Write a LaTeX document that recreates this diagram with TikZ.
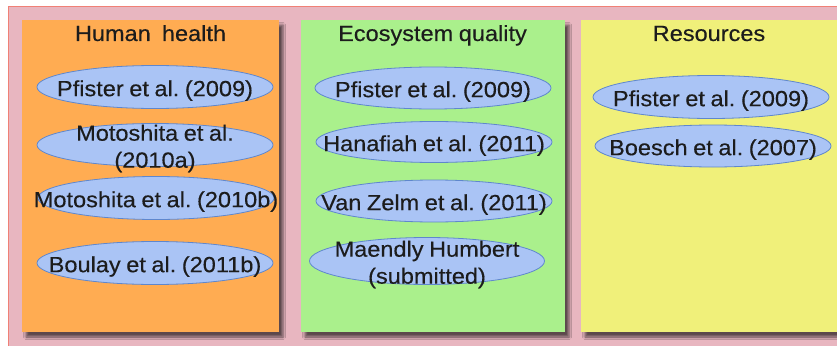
\documentclass[tikz,border=0pt]{standalone}
\usepackage{fontspec}
\setmainfont{Liberation Sans}[FakeStretch=1.07, WordSpace=0.85, FakeBold=0.3]
\usetikzlibrary{shapes.geometric,shadows.blur}
\frenchspacing

\definecolor{panelpink}{RGB}{232,182,192}
\definecolor{panelrim}{RGB}{240,128,118}
\definecolor{healthfill}{RGB}{255,172,82}
\definecolor{ecofill}{RGB}{170,240,140}
\definecolor{resfill}{RGB}{240,240,122}
\definecolor{citefill}{RGB}{170,196,245}
\definecolor{citerim}{RGB}{95,135,205}
\definecolor{inktext}{RGB}{28,28,28}

\tikzset{
  column/.style={rectangle, inner sep=0pt, minimum height=312pt,
    blur shadow={shadow xshift=4pt, shadow yshift=-5pt,
                 shadow blur radius=2.5pt, shadow opacity=60}},
  heading/.style={font=\fontsize{22}{27}\selectfont\frenchspacing, text=inktext,
    inner sep=0pt, anchor=base},
  cite/.style={ellipse, draw=citerim, line width=0.8pt, fill=citefill,
    inner sep=0pt, minimum width=236pt, minimum height=43pt},
  citetext/.style={font=\fontsize{22}{27}\selectfont\frenchspacing, text=inktext,
    align=center, inner sep=0pt, yshift=-3.5pt},
}

\begin{document}
\begin{tikzpicture}[x=1pt,y=-1pt]
\useasboundingbox (0,0) rectangle (837,345);
\clip (0,0) rectangle (837,345);

% outer panel
\fill[white] (0,0) rectangle (837,345);
\draw[panelrim, line width=1.6pt, fill=panelpink] (8.5,6.5) rectangle (860,370);

% three category columns
\node[column, fill=healthfill, minimum width=257pt] (health) at (150.5,176) {};
\node[column, fill=ecofill,    minimum width=264pt] (eco)    at (433,176)   {};
\node[column, fill=resfill,    minimum width=270pt] (res)    at (716,176)   {};

% column headings
\node[heading] (healthT) at (150.5,41) {Human\ \ health};
\node[heading] (ecoT)    at (432.5,41) {Ecosystem quality};
\node[heading] (resT)    at (709,41)   {Resources};

% Human health references
\node[cite] (h1) at (155,87)  {};
\node[citetext] at (h1) {Pfister et al. (2009)};
\node[cite] (h2) at (155,145) {};
\node[citetext] at (h2) {Motoshita et al.\\(2010a)};
\node[cite] (h3) at (156,198) {};
\node[citetext] at (h3) {Motoshita et al. (2010b)};
\node[cite] (h4) at (155,263) {};
\node[citetext] at (h4) {Boulay et al. (2011b)};

% Ecosystem quality references
\node[cite, minimum height=42pt] (q1) at (433,88)  {};
\node[citetext] at (q1) {Pfister et al. (2009)};
\node[cite, minimum height=41pt] (q2) at (434,142) {};
\node[citetext] at (q2) {Hanafiah et al. (2011)};
\node[cite, minimum height=42pt] (q3) at (434,201) {};
\node[citetext] at (q3) {Van Zelm et al. (2011)};
\node[cite, minimum width=235pt, minimum height=47pt] (q4) at (427,261) {};
\node[citetext] at (q4) {Maendly Humbert\\(submitted)};

% Resources references
\node[cite] (r1) at (711,97)  {};
\node[citetext] at (r1) {Pfister et al. (2009)};
\node[cite, minimum height=42pt] (r2) at (713,146) {};
\node[citetext] at (r2) {Boesch et al. (2007)};
\end{tikzpicture}
\end{document}
